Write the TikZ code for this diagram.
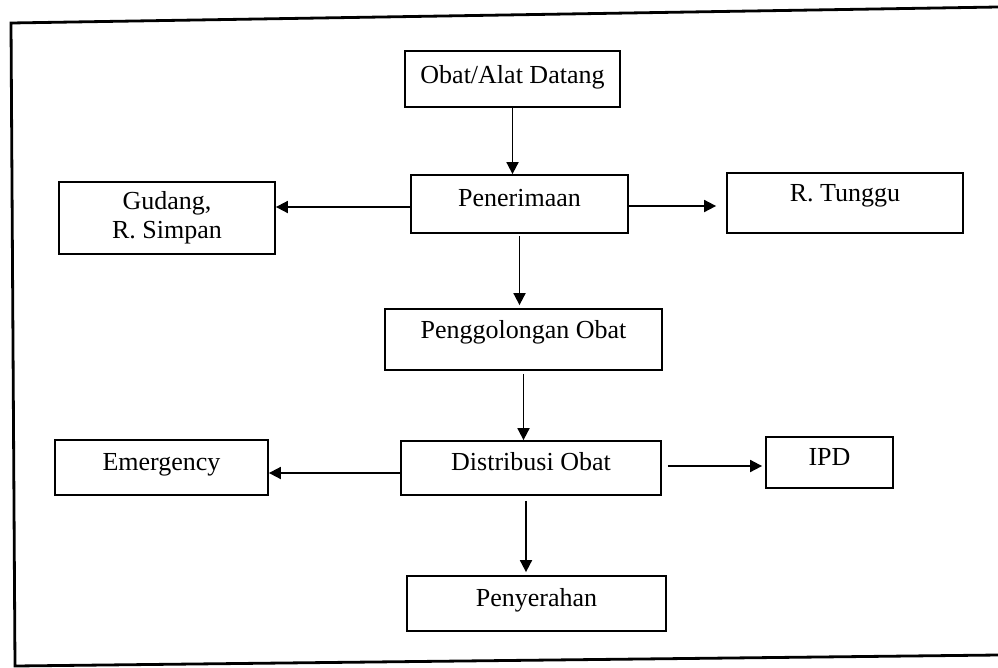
\documentclass[tikz,border=0pt]{standalone}
\usepackage{fontspec}
\setmainfont{Liberation Serif}
\usetikzlibrary{arrows.meta}
\begin{document}
\begin{tikzpicture}[x=1pt,y=-1pt,
  boxbase/.style={draw, line width=1.8pt, rectangle, inner sep=0pt,
    font=\fontsize{26}{29}\selectfont},
  box/.style={boxbase, text height=18pt, text depth=#1},
  box/.default=12.6pt,
  arr/.style={line width=1.8pt, -{Triangle[length=12pt,width=12pt]}},
  frame/.style={line width=2.8pt, line join=miter}]
\useasboundingbox (0,0) rectangle (998,667);

% outer frame (open on the right)
\draw[frame] (998,7) -- (11,23) -- (15,666) -- (998,655);

% process boxes
\node[box=9.4pt, minimum width=215pt, minimum height=56pt] (obat) at (512.5,79) {Obat/Alat Datang};
\node[box, minimum width=217pt, minimum height=58pt] (pen) at (519.5,204) {Penerimaan};
\node[boxbase, align=center, minimum width=216pt, minimum height=72pt] (gud) at (167,218) {Gudang,\\R. Simpan};
\node[box=20.6pt, minimum width=236pt, minimum height=60pt] (tung) at (845,203) {R. Tunggu};
\node[box=20.4pt, minimum width=277pt, minimum height=61pt] (gol) at (523.5,339.5) {Penggolongan Obat};
\node[box, minimum width=260pt, minimum height=54pt] (dist) at (531,468) {Distribusi Obat};
\node[box=11.6pt, minimum width=213pt, minimum height=55pt] (emer) at (161.5,467.5) {Emergency};
\node[box=13pt, minimum width=127pt, minimum height=51pt] (ipd) at (829.5,462.5) {IPD};
\node[box=13pt, minimum width=259pt, minimum height=55pt] (peny) at (536.5,603.5) {Penyerahan};

% connector start points
\coordinate (penL) at ([yshift=-3pt]pen.west);
\coordinate (penR) at ([yshift=-2pt]pen.east);
\coordinate (distL) at ([yshift=-5pt]dist.west);
\coordinate (distR) at ([yshift=2pt]dist.east);
\coordinate (distB) at ([xshift=-5pt]dist.south);

% connectors
\draw[arr] (obat.south) -- (obat.south |- pen.north);
\draw[arr] (penL) -- (penL -| gud.east);
\draw[arr, shorten >=10pt] (penR) -- (penR -| tung.west);
\draw[arr, shorten <=2pt, shorten >=3pt] (pen.south) -- (pen.south |- gol.north);
\draw[arr, shorten <=3pt] (gol.south) -- (gol.south |- dist.north);
\draw[arr] (distL) -- (distL -| emer.east);
\draw[arr, shorten <=6pt, shorten >=3pt] (distR) -- (distR -| ipd.west);
\draw[arr, shorten <=5pt, shorten >=3pt] (distB) -- (distB |- peny.north);
\end{tikzpicture}
\end{document}
